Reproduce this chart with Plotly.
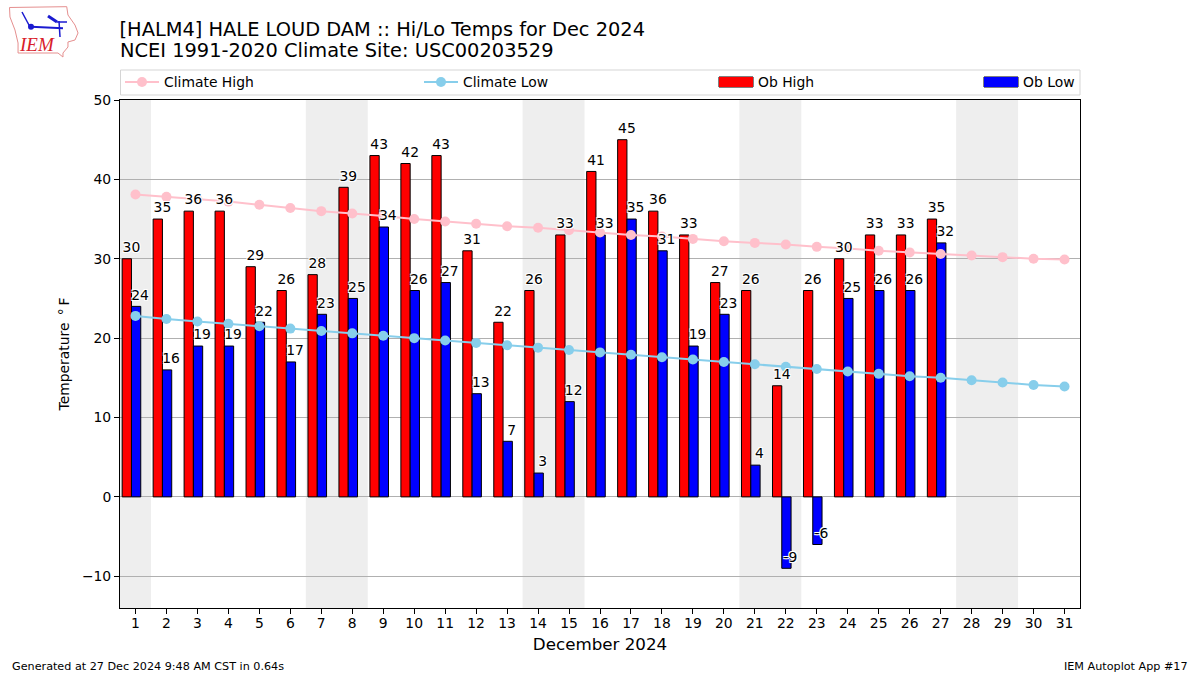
import plotly.graph_objects as go

days = list(range(1, 32))
ob_days = list(range(1, 28))
ob_high = [30,35,36,36,29,26,28,39,43,42,43,31,22,26,33,41,45,36,33,27,26,14,26,30,33,33,35]
ob_low = [24,16,19,19,22,17,23,25,34,26,27,13,7,3,12,33,35,31,19,23,4,-9,-6,25,26,26,32]
climate_high = [38.1,37.8,37.5,37.2,36.8,36.4,36.0,35.7,35.4,35.0,34.7,34.4,34.1,33.9,33.6,33.3,33.0,32.8,32.5,32.2,32.0,31.8,31.5,31.3,31.0,30.8,30.6,30.4,30.2,30.0,29.9]
climate_low = [22.8,22.4,22.1,21.8,21.5,21.2,20.9,20.6,20.3,20.0,19.7,19.4,19.1,18.8,18.5,18.2,17.9,17.6,17.3,17.0,16.7,16.4,16.1,15.8,15.5,15.2,15.0,14.7,14.4,14.1,13.9]
weekend_spans = [(0.5, 1.5), (6.5, 8.5), (13.5, 15.5), (20.5, 22.5), (27.5, 29.5)]

FONT = "DejaVu Sans"
W, H = 1200, 675
L, R, T, B = 120, 1080, 100, 608
px = lambda x: (x - L) / (R - L)
py = lambda y: (B - y) / (B - T)
halo = "-1px -1px 0 #fff,1px -1px 0 #fff,-1px 1px 0 #fff,1px 1px 0 #fff,0 0 2px #fff"

fig = go.Figure()
fig.add_bar(x=ob_days, y=ob_high, width=0.3, offset=-0.43, showlegend=False, name="Ob High",
            marker=dict(color="red", line=dict(color="black", width=1)))
fig.add_bar(x=ob_days, y=ob_low, width=0.3, offset=-0.13, showlegend=False, name="Ob Low",
            marker=dict(color="blue", line=dict(color="black", width=1)))
fig.add_scatter(x=days, y=climate_high, name="Climate High", mode="lines+markers",
                line=dict(color="pink", width=2), marker=dict(color="pink", size=10), legend="legend")
fig.add_scatter(x=days, y=climate_low, name="Climate Low", mode="lines+markers",
                line=dict(color="skyblue", width=2), marker=dict(color="skyblue", size=10), legend="legend2")
# legend entries for the bars: wide swatches like the reference
fig.add_scatter(x=[None], y=[None], name="Ob High", mode="lines", line=dict(color="red", width=10), legend="legend3")
fig.add_scatter(x=[None], y=[None], name="Ob Low", mode="lines", line=dict(color="blue", width=10), legend="legend4")
for vals, dx in ((ob_high, -0.13), (ob_low, 0.15)):
    fig.add_scatter(x=[d + dx for d in ob_days], y=[v + 0.4 for v in vals], text=[str(v) for v in vals], mode="text",
                    textposition="top center", showlegend=False, hoverinfo="skip",
                    textfont=dict(family=FONT, size=13.9, color="black", shadow=halo))

shapes = [dict(type="rect", xref="x", yref="paper", x0=a, x1=b, y0=0, y1=1,
               fillcolor="#eeeeee", line_width=0, layer="below") for a, b in weekend_spans]
shapes.append(dict(type="rect", xref="paper", yref="paper", x0=px(120.5), x1=px(1080), y0=py(95), y1=py(70),
                   line=dict(color="#d5d5d5", width=1), fillcolor="rgba(0,0,0,0)"))
for a, b in ((719, 753), (984, 1018)):
    shapes.append(dict(type="rect", xref="paper", yref="paper", x0=px(a), x1=px(b), y0=py(87), y1=py(77),
                       line=dict(color="black", width=1), fillcolor="rgba(0,0,0,0)"))
# logo
outline = [(9.5,7.5),(66.7,6.7),(68,15),(75,25),(78,33),(75,40),(68,42),(68,47),(63,53),(63,57),(58,53),(18,53),(18,43),(15,30),(10,17)]
shapes.append(dict(type="path", xref="paper", yref="paper",
                   path="M" + " L".join(f"{px(a):.4f},{py(b):.4f}" for a, b in outline) + " Z",
                   line=dict(color="#e58f8f", width=1)))
for (a, b, c, d, w) in [(31,26.7,63,28.3,2),(59,21,60,37,1.5),(22,12,30,27,1.5),(48,16,57,22,3),(57,22,67,22,1.5)]:
    shapes.append(dict(type="line", xref="paper", yref="paper", x0=px(a), x1=px(c), y0=py(b), y1=py(d),
                       line=dict(color="#1a1ad0", width=w)))
shapes.append(dict(type="circle", xref="paper", yref="paper", x0=px(28), x1=px(34), y0=py(23.7), y1=py(29.7),
                   fillcolor="#1a1ad0", line_width=0))

annots = [
    dict(text="<i>IEM</i>", x=px(37), y=py(45), xref="paper", yref="paper", showarrow=False,
         font=dict(family="Liberation Serif", size=19, color="#d8202a"), xanchor="center", yanchor="middle"),
    dict(text="NCEI 1991-2020 Climate Site: USC00203529", x=px(118), y=py(51), xref="paper", yref="paper",
         showarrow=False, xanchor="left", yanchor="middle", font=dict(family=FONT, size=19.4, color="black")),
    dict(text="Generated at 27 Dec 2024 9:48 AM CST in 0.64s", x=px(10), y=py(666), xref="paper", yref="paper",
         showarrow=False, xanchor="left", yanchor="middle", font=dict(family=FONT, size=11.2, color="black")),
    dict(text="IEM Autoplot App #17", x=px(1190), y=py(666), xref="paper", yref="paper",
         showarrow=False, xanchor="right", yanchor="middle", font=dict(family=FONT, size=11.2, color="black")),
]

def leg(x_px):
    return dict(x=px(x_px), y=py(82.5), xanchor="left", yanchor="middle", xref="paper", yref="paper",
                itemwidth=34, bgcolor="rgba(0,0,0,0)", borderwidth=0, font=dict(family=FONT, size=13.9, color="black"))

fig.update_layout(
    width=W, height=H, margin=dict(l=L, r=W - R, t=T, b=H - B, pad=0),
    plot_bgcolor="white", paper_bgcolor="white", showlegend=True,
    font=dict(family=FONT, size=13.9, color="black"),
    title=dict(text="[HALM4] HALE LOUD DAM :: Hi/Lo Temps for Dec 2024",
               x=119.5 / W, xref="container", xanchor="left", y=1 - 29 / H, yanchor="middle",
               font=dict(family=FONT, size=19.4, color="black")),
    legend=leg(120), legend2=leg(419), legend3=leg(714), legend4=leg(979),
    barmode="overlay", shapes=shapes, annotations=annots,
    xaxis=dict(range=[0.5, 31.5], tickmode="array", tickvals=days, ticktext=[str(d) for d in days],
               showgrid=False, zeroline=False, showline=True, mirror=True, linecolor="black", linewidth=1,
               ticks="outside", ticklen=5, tickcolor="black", tickfont=dict(size=13.9), ticklabelstandoff=-3,
               title=dict(text="December 2024", font=dict(size=16.7), standoff=8)),
    yaxis=dict(range=[-14, 50], tickvals=[-10, 0, 10, 20, 30, 40, 50],
               ticktext=["\u221210", "0", "10", "20", "30", "40", "50"],
               showgrid=True, gridcolor="#b0b0b0", gridwidth=1, zeroline=True, zerolinecolor="#b0b0b0", zerolinewidth=1,
               showline=True, mirror=True, linecolor="black", linewidth=1,
               ticks="outside", ticklen=5, tickcolor="black", tickfont=dict(size=13.9),
               title=dict(text="Temperature \u2009\u00b0\u2009F", font=dict(size=13.9), standoff=9)),
)
fig.write_html("out.html", post_script="document.body.style.margin='0';", config=dict(displayModeBar=False))
